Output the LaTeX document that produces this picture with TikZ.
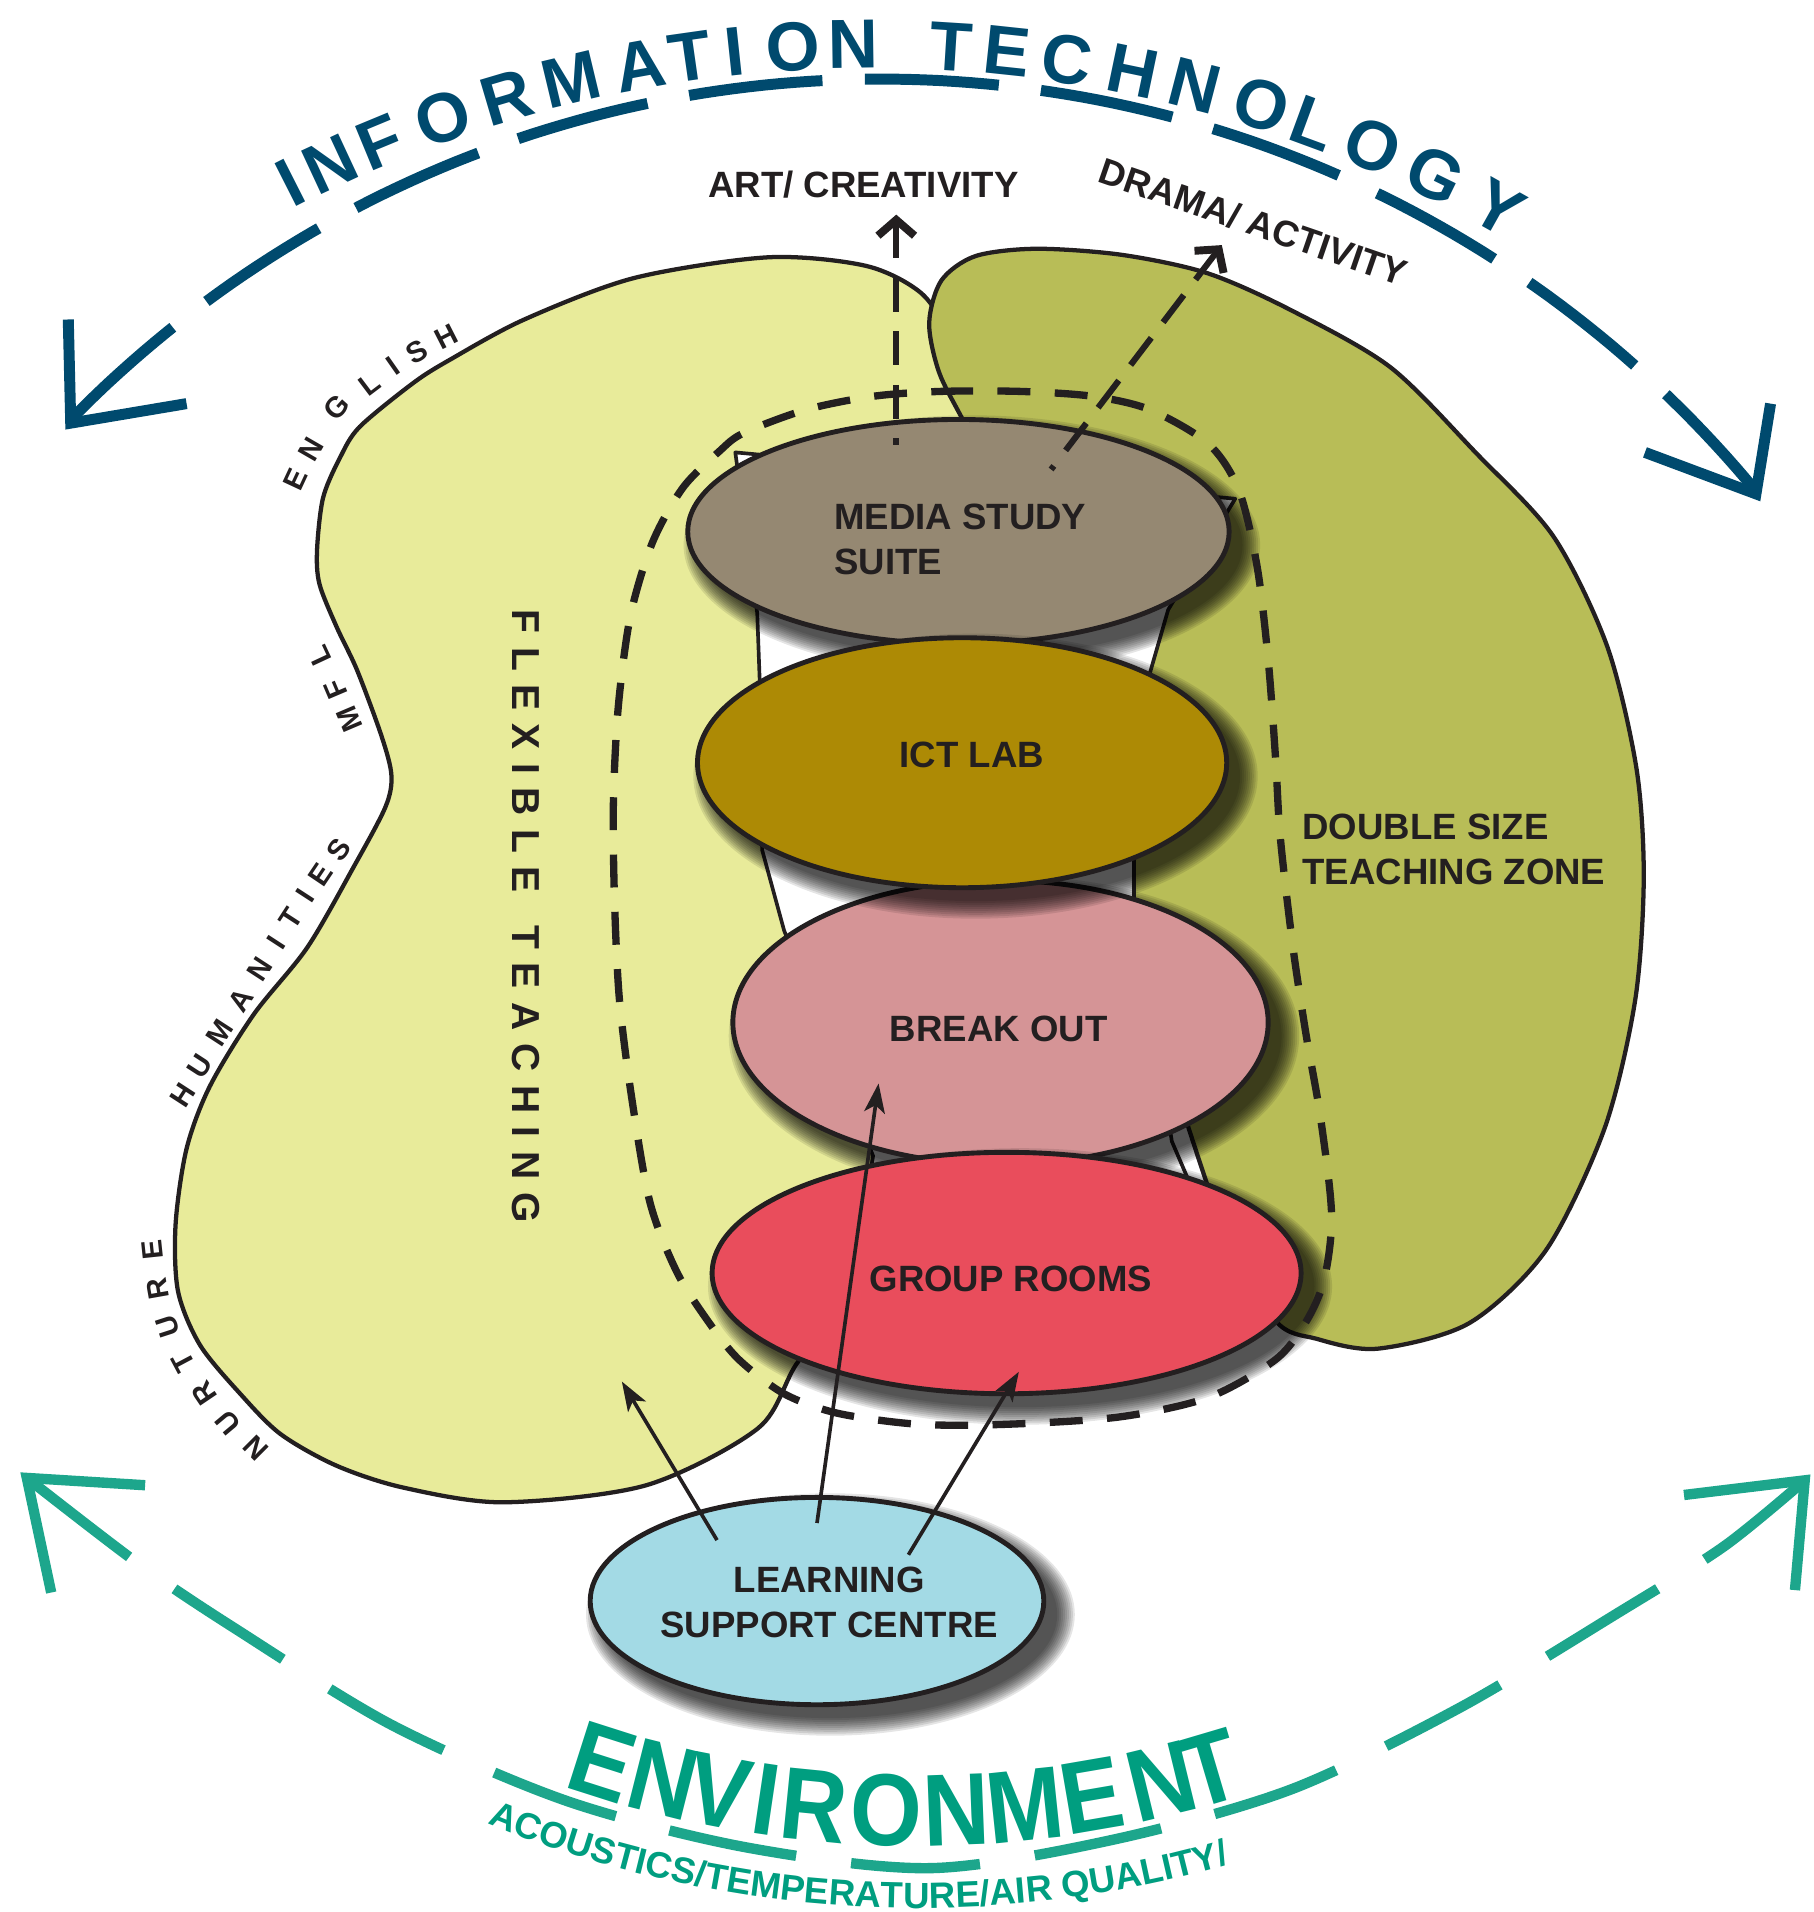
\documentclass[tikz,border=0pt]{standalone}
\usepackage{fontspec}
\setmainfont{Liberation Sans}
\usepackage{graphicx}
\usetikzlibrary{shapes.geometric,arrows.meta,calc,decorations.text}
\definecolor{itblue}{RGB}{0,74,110}
\definecolor{envgreen}{RGB}{29,166,140}
\definecolor{envtext}{RGB}{0,158,128}
\definecolor{blobA}{RGB}{232,235,154}
\definecolor{blobB}{RGB}{184,189,87}
\definecolor{cmedia}{RGB}{149,136,114}
\definecolor{cict}{RGB}{173,138,5}
\definecolor{cbreak}{RGB}{213,148,150}
\definecolor{cgroup}{RGB}{233,77,92}
\definecolor{clsc}{RGB}{163,218,229}
\definecolor{ink}{RGB}{35,31,32}
\def\lspk{11pt}
\def\lsp#1{\ifx#1\relax\else#1\kern\lspk\expandafter\lsp\fi}
\newcommand\softshadow[3]{\foreach \k in {1,...,10}{\fill[black,opacity=0.1] ($(#1)+(11,11)$) ellipse [x radius={#2+16-1.6*\k}, y radius={#3+16-1.6*\k}];}}
\begin{document}
\begin{tikzpicture}[x=1pt,y=-1pt,
  blob/.style={draw=ink,line width=3.5pt},
  ell/.style={ellipse,draw=ink,line width=4pt,inner sep=0pt},
  lbl/.style={font=\fontsize{30}{37}\selectfont\bfseries,text=ink,inner sep=0pt},
  lblone/.style={lbl,text height=21.5pt,text depth=0pt},
  small/.style={font=\fontsize{24}{24}\selectfont\bfseries,text=ink,inner sep=0pt,text height=17pt,text depth=0pt},
  flex/.style={font=\fontsize{32}{32}\selectfont\bfseries,text=ink,inner sep=0pt,text height=23pt,text depth=0pt},
  itl/.style={font=\fontsize{57}{57}\selectfont\bfseries,text=itblue,inner sep=0pt,text height=41pt,text depth=0pt},
  envl/.style={font=\fontsize{84}{84}\selectfont\bfseries,text=envtext,inner sep=0pt,text height=60pt,text depth=0pt},
  bluedash/.style={draw=itblue,line width=9pt,dash pattern=on 110pt off 34.8pt},
  bluehead/.style={draw=itblue,line width=9pt,line join=miter},
  greendash/.style={draw=envgreen,line width=8.5pt,dash pattern=on 106pt off 45.5pt},
  greenhead/.style={draw=envgreen,line width=8.5pt,line join=miter},
  loopdash/.style={draw=ink,line width=6pt,dash pattern=on 27pt off 20pt},
  arrdash/.style={draw=ink,line width=5pt,dash pattern=on 28pt off 16pt},
  barb/.style={{Straight Barb[length=13pt,width=30pt,line width=6.5pt]}-},
  conn/.style={draw=ink,line width=3pt,-{Stealth[length=24pt,width=17pt,inset=6pt]}},
]
\useasboundingbox (0,0) rectangle (1487.6,1568);
\fill[white] (0,0) rectangle (1487.6,1568);

% ---------- Information technology arc ----------
\draw[bluedash] plot[domain=-135.4:-39.5,samples=120] ({722.6+930.6*cos(\x)},{995.4+930.6*sin(\x)});
\coordinate (tipL) at (58,347);
\coordinate (tipR) at (1440,405);
\draw[bluehead] (56,262) -- (tipL) -- (153,331);
\draw[bluehead] (1452,331) -- (tipR) -- (1349,371);
\foreach \ch/\p [count=\i] in {I/-26.9,N/-24.95,F/-22.5,O/-19.5,R/-16.5,M/-13.5,A/-10.4,T/-8.1,I/-6.1,O/-3.5,N/-0.8,T/3.6,E/6.1,C/8.8,H/11.8,N/14.6,O/17.7,L/20.2,O/23.0,G/26.1,Y/29.3}
  \node[itl,rotate={0-(\p)}] (it\i) at ({714.3+1053*sin(\p)},{1088.4-1053*cos(\p)}) {\ch};

% ---------- Environment arc ----------
\draw[greendash] plot[smooth] coordinates {(22,1212) (113,1282) (192,1335) (322,1415) (465,1477) (612,1515) (764,1532) (916,1508) (1060,1467) (1198,1400) (1328,1322) (1414,1268) (1480,1214)};
\coordinate (gtipL) at (22,1212);
\coordinate (gtipR) at (1480,1214);
\draw[greenhead] (119,1218) -- (gtipL) -- (42,1306);
\draw[greenhead] (1381,1226) -- (gtipR) -- (1472,1304);
\foreach \ch/\p [count=\i] in {E/-17.7,N/-14.2,V/-11.0,I/-8.4,R/-5.7,O/-1.7,N/2.2,M/6.0,E/9.75,N/13.7,T/16.5}
  \node[envl,rotate=\p] (env\i) at ({752+846*sin(\p)},{638+846*cos(\p)}) {\scalebox{0.9}[1]{\ch}};
\path[decorate,decoration={text along path,text align=center,text color=envtext,
  text={|\fontsize{30}{30}\selectfont\bfseries|ACOUSTICS/TEMPERATURE/AIR QUALITY/}}]
  plot[domain=133.08:53.16,samples=90] ({752+927*cos(\x)},{638+927*sin(\x)});

% ---------- blobs ----------
\draw[blob,fill=blobA] plot[smooth cycle] coordinates {(520,228) (630,211) (710,218) (755,240) (778,275) (795,330) (805,430) (795,700) (765,940) (705,1065) (655,1116) (622,1171) (530,1218) (413,1232) (331,1220) (276,1202) (230,1176) (197,1143) (164,1103) (146,1059) (144,1004) (153,942) (172,891) (208,832) (252,777) (290,711) (316,662) (321,636) (313,604) (293,550) (276,514) (262,479) (260,451) (265,408) (279,375) (295,350) (339,314) (369,295) (430,262)};
\draw[blob,fill=blobB] plot[smooth cycle] coordinates {(800,210) (850,204) (920,209) (990,224) (1058,254) (1140,301) (1211,372) (1274,440) (1318,530) (1342,630) (1348,720) (1341,820) (1316,925) (1268,1025) (1205,1085) (1130,1106) (1080,1098) (1045,1082) (1000,1000) (905,700) (830,420) (790,345) (770,305) (762,265) (772,230)};

% ---------- subject labels ----------
\foreach \x/\y/\r/\c [count=\i] in {242/393/65/E,255/368/60/N,276/334/48/G,303/315/37/L,322/300/35/I,342/288/30/S,366/276/27/H}
  \node[small,rotate=\r] (eng\i) at (\x,\y) {\c};
\foreach \x/\y/\r/\c [count=\i] in {286/590/113/M,275/565/113/F,262/538/115/L}
  \node[small,rotate=\r] (mfl\i) at (\x,\y) {\c};
\foreach \x/\y/\r/\c [count=\i] in {150/898/57/H,164/874/57/U,180/847/57/M,197/820/57/A,213/795/57/N,226/773/57/I,238/753/57/T,250/734/57/I,263/717/56/E,278/697/55/S}
  \node[small,rotate=\r] (hum\i) at (\x,\y) {\c};
\foreach \x/\y/\r/\c [count=\i] in {210/1188/135/N,187/1167/130/U,167/1143/124/R,150/1117/118/T,137/1088/108/U,129/1057/100/R,125/1025/96/E}
  \node[small,rotate=\r] (nur\i) at (\x,\y) {\c};
\node[flex,rotate=-90,anchor=west] (flex) at (432,500) {\lsp FLEXIBLE\relax\kern16pt\lsp TEACHING\relax};
\node[lbl,align=left,anchor=west] (dbl) at (1068,696.5) {DOUBLE SIZE\\TEACHING ZONE};
\node[lblone] (art) at (708,151) {ART/ CREATIVITY};
\node[lblone,rotate=-19] (drama) at (1028,182) {DRAMA/ ACTIVITY};

% ---------- white column behind the stack ----------
\draw[draw=ink,fill=white,line width=3pt,line join=round] (603,371) -- (1013,409) -- (958,500) -- (943,552) -- (930,706) -- (930,737) -- (961,936) -- (973,964) -- (1000,1040) -- (700,1040) -- (716,948) -- (643,763) -- (625,697) -- (623,558) -- (621,503) -- cycle;

% ---------- ellipses ----------
\coordinate (cMedia) at (786,436);
\coordinate (cIct) at (789,625.5);
\coordinate (cBreak) at (820.5,838.5);
\coordinate (cGroup) at (825.5,1044);
\coordinate (cLsc) at (670,1313);
\softshadow{cMedia}{222}{92}
\node[ell,fill=cmedia,minimum width=444pt,minimum height=184pt] (media) at (cMedia) {};
\softshadow{cBreak}{219.5}{116.5}
\node[ell,fill=cbreak,minimum width=439pt,minimum height=233pt] (breakout) at (cBreak) {};
\softshadow{cIct}{217}{102.5}
\node[ell,fill=cict,minimum width=434pt,minimum height=205pt] (ict) at (cIct) {};
\softshadow{cGroup}{241.5}{99}
\node[ell,fill=cgroup,minimum width=483pt,minimum height=198pt] (group) at (cGroup) {};
\softshadow{cLsc}{186}{85}
\node[ell,fill=clsc,minimum width=372pt,minimum height=170pt] (lsc) at (cLsc) {};

% ---------- dashed boundary loop ----------
\draw[loopdash] plot[smooth cycle] coordinates {(716,325) (771,321) (837,321) (896,325) (943,336) (991,364) (1016,402) (1031,465) (1040,541) (1046,621) (1049,675) (1053,716) (1061,782) (1071,848) (1083,917) (1092,996) (1086,1049) (1071,1084) (1046,1115) (991,1146) (918,1162) (826,1168) (753,1168) (687,1159) (643,1143) (606,1115) (581,1084) (555,1043) (533,986) (518,900) (508,820) (504,740) (503,660) (507,580) (517,505) (535,445) (560,400) (590,370) (610,355) (661,336)};

% ---------- dashed arrows out of media suite ----------
\coordinate (artS) at ($(media.center)+(-51,-71)$);
\coordinate (artE) at (735,176);
\coordinate (drS) at ($(media.center)+(76,-51)$);
\coordinate (drE) at (1002,201);
\draw[arrdash,barb] (artE) -- (artS);
\draw[arrdash,barb] (drE) -- (drS);

% ---------- texts in ellipses ----------
\node[lbl,align=left,anchor=west] (mediat) at ($(media.center)+(-102,6.5)$) {MEDIA STUDY\\SUITE};
\node[lblone] (ictt) at ($(ict.center)+(8,-6.5)$) {ICT LAB};
\node[lblone] (breakt) at ($(breakout.center)+(-1.5,4.5)$) {BREAK OUT};
\node[lblone] (groupt) at ($(group.center)+(3.5,4)$) {GROUP ROOMS};
\node[lbl,align=center] (lsct) at ($(lsc.center)+(10,1)$) {LEARNING\\SUPPORT CENTRE};

% ---------- connectors from learning support centre ----------
\coordinate (l1) at ($(lsc.center)+(-82,-50)$);
\coordinate (t1) at (510,1133);
\coordinate (l2) at ($(lsc.center)+(0,-64)$);
\coordinate (t2) at ($(breakout.center)+(-100,50)$);
\coordinate (l3) at ($(lsc.center)+(75,-38)$);
\coordinate (t3) at ($(group.center)+(10,81)$);
\draw[conn] (l1) -- (t1);
\draw[conn] (l2) -- (t2);
\draw[conn] (l3) -- (t3);
\end{tikzpicture}
\end{document}
